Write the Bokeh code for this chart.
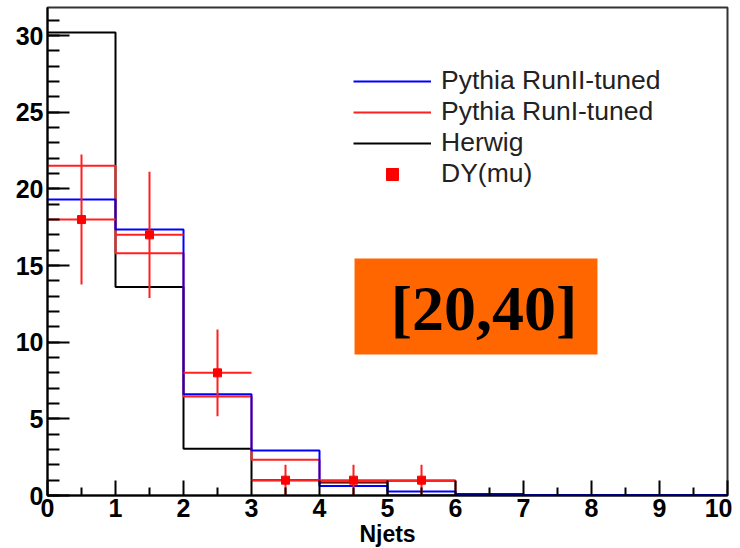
from bokeh.plotting import figure
from bokeh.models import (Range1d, FixedTicker, Legend, LegendItem, BoxAnnotation, Label)
from bokeh.embed import file_html
from bokeh.resources import INLINE

# ---- data ----
bin_edges = [0, 1, 2, 3, 4, 5, 6, 7, 8, 9, 10]
pythia_run2 = [19.3, 17.35, 6.6, 2.93, 0.62, 0.26, 0.1, 0.03, 0.03, 0.03]
pythia_run1 = [21.5, 15.8, 6.45, 2.33, 0.92, 0.95, 0.05, 0.0, 0.0, 0.0]
herwig = [30.2, 13.6, 3.05, 1.0, 0.85, 0.0, 0.0, 0.0, 0.0, 0.0]
data_x = [0.5, 1.5, 2.5, 3.5, 4.5, 5.5]
data_y = [18, 17, 8, 1, 1, 1]
data_err = [4.24, 4.12, 2.83, 1.0, 1.0, 1.0]
x_ticks = [0, 1, 2, 3, 4, 5, 6, 7, 8, 9, 10]
y_ticks = [0, 5, 10, 15, 20, 25, 30]
labels = ["Pythia RunII-tuned", "Pythia RunI-tuned", "Herwig", "DY(mu)"]
box_text = "[20,40]"

p = figure(frame_width=680, frame_height=488, output_backend="svg", toolbar_location=None,
           x_range=Range1d(0, 10), y_range=Range1d(0, 31.83),
           min_border_left=47, min_border_right=5, min_border_top=7, min_border_bottom=45)
p.xgrid.visible = False
p.ygrid.visible = False
p.background_fill_color = "white"
p.border_fill_color = "white"
p.outline_line_color = "#333333"
p.outline_line_width = 2

def step_y(vals):
    return list(vals) + [vals[-1]]

r_black = p.step(x=bin_edges, y=step_y(herwig), mode="after", line_color="black", line_width=2)
r_red = p.step(x=bin_edges, y=step_y(pythia_run1), mode="after", line_color="#FF2020", line_width=2)
r_blue = p.step(x=bin_edges, y=step_y(pythia_run2), mode="after", line_color="#0000FF", line_width=2)

lo = [y - e for y, e in zip(data_y, data_err)]
hi = [y + e for y, e in zip(data_y, data_err)]
xl = [x - 0.5 for x in data_x]
xr = [x + 0.5 for x in data_x]
p.segment(x0=data_x, y0=lo, x1=data_x, y1=hi, line_color="#FF2020", line_width=2)
p.segment(x0=xl, y0=data_y, x1=xr, y1=data_y, line_color="#FF2020", line_width=2)
r_data = p.scatter(x=data_x, y=data_y, marker="square", size=8, fill_color="red", line_color="red")

# orange box annotation
box = BoxAnnotation(left=4.515, right=8.088, bottom=9.2, top=15.46,
                    fill_color="#FF6600", fill_alpha=1.0, line_alpha=0)
p.add_layout(box)
p.add_layout(Label(x=6.42, y=12.2, text=box_text, text_align="center", text_baseline="alphabetic",
                   text_font="Liberation Serif", text_font_style="bold", text_font_size="64px",
                   text_color="black"))

# axes
for ax in (p.xaxis[0], p.yaxis[0]):
    ax.axis_line_color = "black"
    ax.axis_line_width = 2
    ax.major_tick_line_color = "black"
    ax.minor_tick_line_color = "black"
    ax.major_tick_line_width = 2
    ax.minor_tick_line_width = 2
    ax.major_tick_out = 0
    ax.minor_tick_out = 0
    ax.major_label_text_font = "Liberation Sans"
    ax.major_label_text_font_style = "bold"
    ax.major_label_text_font_size = "25px"
    ax.major_label_text_color = "black"

p.xaxis.ticker = FixedTicker(ticks=x_ticks, minor_ticks=[t + 0.5 for t in x_ticks[:-1]])
p.yaxis.ticker = FixedTicker(ticks=y_ticks, minor_ticks=list(range(0, 32)))
p.xaxis.major_tick_in = 15
p.xaxis.minor_tick_in = 8
p.yaxis.major_tick_in = 22
p.yaxis.minor_tick_in = 12
p.xaxis.major_label_standoff = 3
p.yaxis.major_label_standoff = 4
p.xaxis.axis_label = "Njets"
p.xaxis.axis_label_text_font = "Liberation Sans"
p.xaxis.axis_label_text_font_style = "bold"
p.xaxis.axis_label_text_font_size = "23px"
p.xaxis.axis_label_text_color = "black"
p.xaxis.axis_label_standoff = 1

legend = Legend(items=[LegendItem(label=labels[0], renderers=[r_blue]),
                       LegendItem(label=labels[1], renderers=[r_red]),
                       LegendItem(label=labels[2], renderers=[r_black]),
                       LegendItem(label=labels[3], renderers=[r_data])],
                location=(306, 306), padding=0, margin=0, spacing=0,
                glyph_width=78, glyph_height=30, label_height=30, label_standoff=10,
                label_text_font="Liberation Sans", label_text_font_size="26.5px",
                label_text_color="#222222", border_line_alpha=0, background_fill_alpha=0)
p.add_layout(legend)

open("out.html", "w").write(file_html(p, INLINE))
